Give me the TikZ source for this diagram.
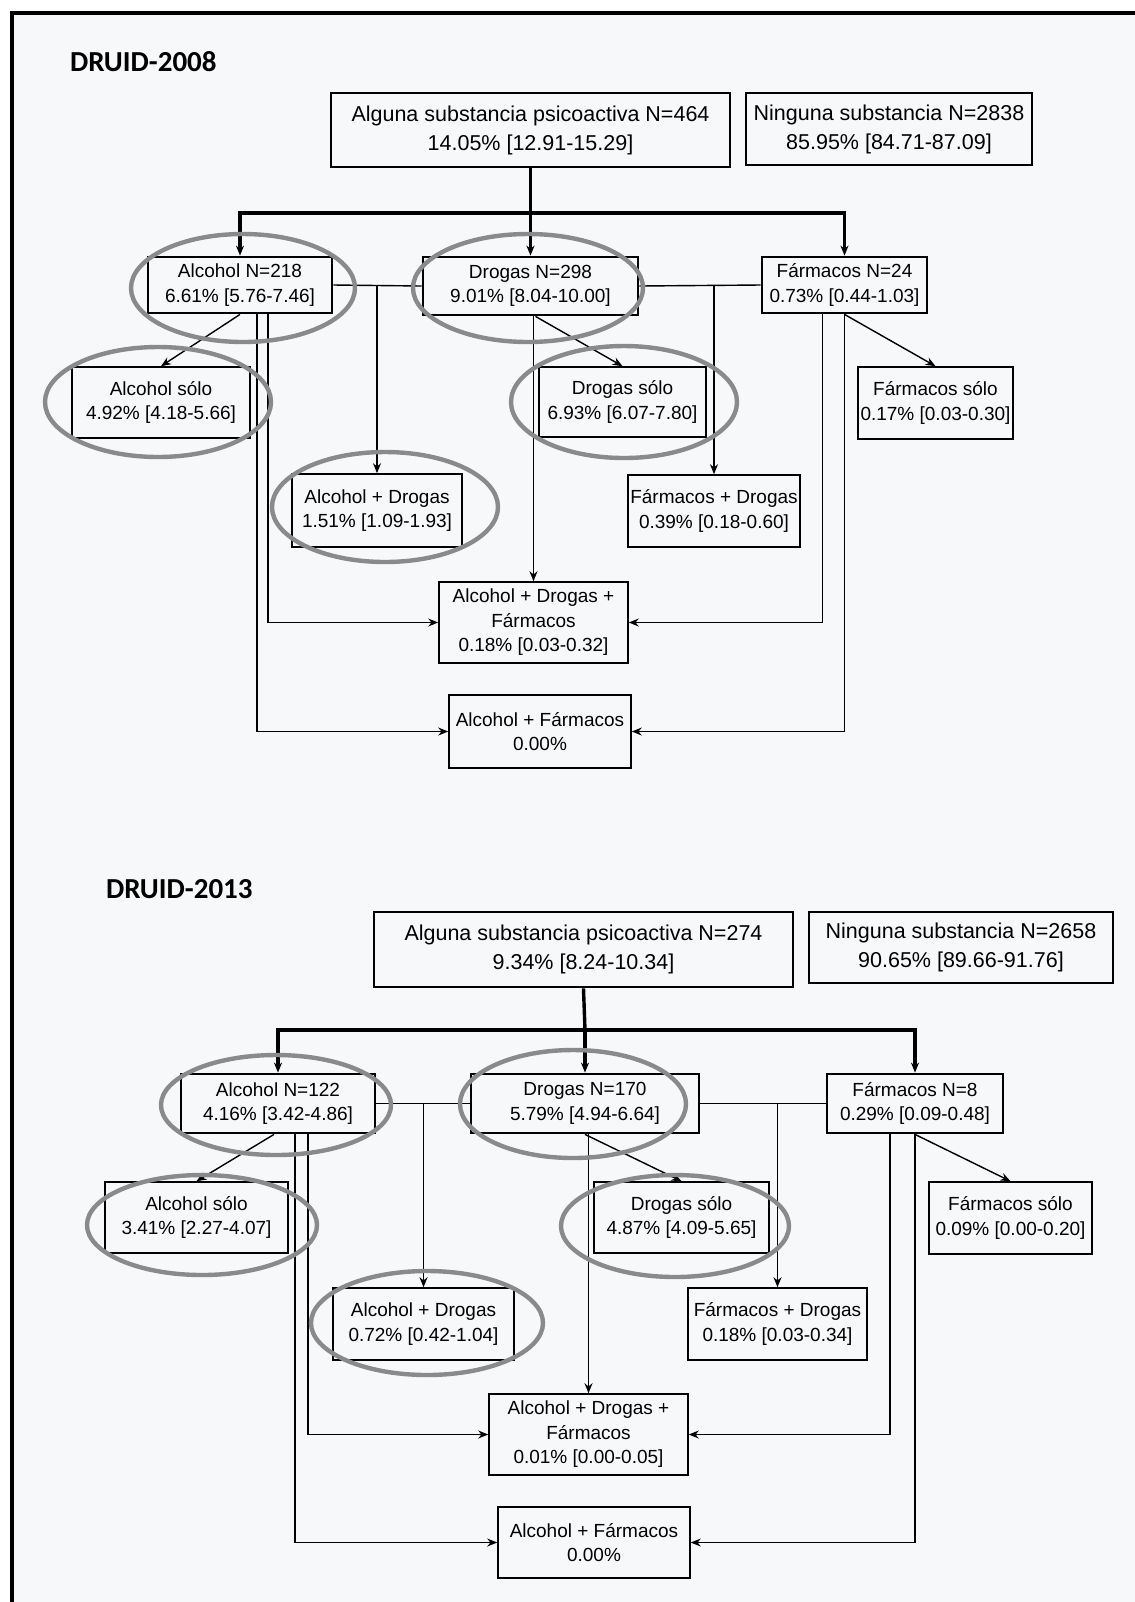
\documentclass[tikz,border=0pt]{standalone}
\usepackage{fontspec}
\setmainfont{Liberation Sans}
\newfontfamily\headfont{Carlito}
\usetikzlibrary{arrows.meta}

\definecolor{paper}{HTML}{F6F8F9}
\definecolor{ringgray}{HTML}{8A8A8A}

\tikzset{
  topbox/.style={draw, line width=1.4pt, align=center, inner sep=0pt, font=\fontsize{10.75}{14.5}\selectfont},
  midbox/.style={draw, line width=1.4pt, align=center, inner sep=0pt, font=\fontsize{9.5}{12.25}\selectfont},
  lowbox/.style={draw, line width=0.8pt, align=center, inner sep=0pt, font=\fontsize{9.5}{12.25}\selectfont},
  trunk/.style={line width=1.7pt},
  link/.style={line width=0.7pt},
  ring/.style={draw=ringgray, line width=2.2pt},
  heading/.style={anchor=west, font=\headfont\bfseries\fontsize{14.5}{17}\selectfont},
  >={Stealth[length=5pt,width=4pt]}
}

\begin{document}
\begin{tikzpicture}[x=0.5pt,y=-0.5pt]
  \useasboundingbox (0,0) rectangle (1135,1602);
  \fill[paper] (11.7,12.7) rectangle (1135,1602); % scanned page
  \draw[line width=1.8pt] (1135,12.7) -- (11.7,12.7) -- (11.7,1602); % frame

  % DRUID-2008
  \node[heading] (t8) at (63,62) {DRUID-2008};
  \node[topbox, minimum width=199.5pt, minimum height=37pt] (alg8) at (530.5,130) {Alguna substancia psicoactiva N=464\\14.05\% [12.91-15.29]};
  \node[topbox, minimum width=143pt, minimum height=36pt] (nin8) at (889,129) {Ninguna substancia N=2838\\85.95\% [84.71-87.09]};
  \node[midbox, minimum width=92pt, minimum height=28pt] (alc8) at (240,285) {Alcohol N=218\\6.61\% [5.76-7.46]};
  \node[midbox, minimum width=107.5pt, minimum height=29pt] (dro8) at (530.5,286) {Drogas N=298\\9.01\% [8.04-10.00]};
  \node[midbox, minimum width=82.5pt, minimum height=28pt] (far8) at (844.5,285) {Fármacos N=24\\0.73\% [0.44-1.03]};
  \node[lowbox, minimum width=89pt, minimum height=35.5pt] (alcs8) at (161,402.5) {Alcohol sólo\\4.92\% [4.18-5.66]};
  \node[lowbox, minimum width=83.5pt, minimum height=35pt] (dros8) at (622.5,402) {Drogas sólo\\6.93\% [6.07-7.80]};
  \node[lowbox, minimum width=77.5pt, minimum height=36pt] (fars8) at (935.5,403) {Fármacos sólo\\0.17\% [0.03-0.30]};
  \node[lowbox, minimum width=85pt, minimum height=36.5pt] (ad8) at (377,510.5) {Alcohol + Drogas\\1.51\% [1.09-1.93]};
  \node[lowbox, minimum width=86pt, minimum height=36pt] (fd8) at (714,511) {Fármacos + Drogas\\0.39\% [0.18-0.60]};
  \node[lowbox, minimum width=94.5pt, minimum height=40.5pt] (adf8) at (533.5,622.5) {Alcohol + Drogas +\\Fármacos\\0.18\% [0.03-0.32]};
  \node[lowbox, minimum width=91pt, minimum height=36.5pt] (af8) at (540,731.5) {Alcohol + Fármacos\\0.00\%};

  \coordinate (j8) at (530.5,213); % split under the top box
  \draw[trunk] (alg8.south) -- (j8);
  \draw[trunk,->] (j8) -| (alc8.north);
  \draw[trunk,->] (j8) -- (dro8.north);
  \draw[trunk,->] (j8) -| (far8.north);
  \draw[link] (alc8.east) -- (dro8.west);
  \draw[link] (dro8.east) -- (far8.west);
  \draw[link,->] (alc8.east -| ad8.north) -- (ad8.north);
  \draw[link,->] (dro8.east -| fd8.north) -- (fd8.north);
  \draw[link,->] (alc8.south) -- (alcs8.north);
  \draw[link,->] ([xshift=2.5pt]dro8.south) -- (dros8.north);
  \draw[link,->] (far8.south) -- (fars8.north);
  \draw[link,->] (dro8.south -| adf8.north) -- (adf8.north);
  \draw[link,->] ([xshift=14pt]alc8.south) |- (adf8.west);
  \draw[link,->] ([xshift=8.5pt]alc8.south) |- (af8.west);
  \draw[link,->] ([xshift=-11pt]far8.south) |- (adf8.east);
  \draw[link,->] (far8.south) |- (af8.east);

  \draw[ring] (243,288) ellipse [x radius=56pt, y radius=27pt];
  \draw[ring] (528,288) ellipse [x radius=57.5pt, y radius=27pt];
  \draw[ring] (158,402) ellipse [x radius=56.5pt, y radius=27.5pt];
  \draw[ring] (624,402) ellipse [x radius=56.5pt, y radius=28pt];
  \draw[ring] (385,507) ellipse [x radius=56.5pt, y radius=27.5pt];

  % DRUID-2013
  \node[heading] (t3) at (99,889) {DRUID-2013};
  \node[topbox, minimum width=209.5pt, minimum height=37.5pt] (alg3) at (583.5,949.5) {Alguna substancia psicoactiva N=274\\9.34\% [8.24-10.34]};
  \node[topbox, minimum width=152pt, minimum height=35.5pt] (nin3) at (961,947.5) {Ninguna substancia N=2658\\90.65\% [89.66-91.76]};
  \node[midbox, minimum width=97pt, minimum height=29.5pt] (alc3) at (278,1103.5) {Alcohol N=122\\4.16\% [3.42-4.86]};
  \node[midbox, minimum width=114pt, minimum height=29.5pt] (dro3) at (585,1103.5) {Drogas N=170\\5.79\% [4.94-6.64]};
  \node[midbox, minimum width=88pt, minimum height=29.5pt] (far3) at (915,1103.5) {Fármacos N=8\\0.29\% [0.09-0.48]};
  \node[lowbox, minimum width=91.5pt, minimum height=35.5pt] (alcs3) at (196.5,1217.5) {Alcohol sólo\\3.41\% [2.27-4.07]};
  \node[lowbox, minimum width=87.5pt, minimum height=35.5pt] (dros3) at (681.5,1217.5) {Drogas sólo\\4.87\% [4.09-5.65]};
  \node[lowbox, minimum width=81.5pt, minimum height=36pt] (fars3) at (1010.5,1218) {Fármacos sólo\\0.09\% [0.00-0.20]};
  \node[lowbox, minimum width=90.5pt, minimum height=36pt] (ad3) at (423.5,1324) {Alcohol + Drogas\\0.72\% [0.42-1.04]};
  \node[lowbox, minimum width=89.5pt, minimum height=36pt] (fd3) at (777.5,1324) {Fármacos + Drogas\\0.18\% [0.03-0.34]};
  \node[lowbox, minimum width=99.5pt, minimum height=40.5pt] (adf3) at (588.5,1434.5) {Alcohol + Drogas +\\Fármacos\\0.01\% [0.00-0.05]};
  \node[lowbox, minimum width=96pt, minimum height=35.5pt] (af3) at (594,1542.5) {Alcohol + Fármacos\\0.00\%};

  \coordinate (j3) at (585,1030); % split under the top box
  \draw[trunk] (alg3.south) -- (j3);
  \draw[trunk,->] (j3) -| (alc3.north);
  \draw[trunk,->] (j3) -- (dro3.north);
  \draw[trunk,->] (j3) -| (far3.north);
  \draw[link] (alc3.east) -- (dro3.west);
  \draw[link] (dro3.east) -- (far3.west);
  \draw[link,->] (alc3.east -| ad3.north) -- (ad3.north);
  \draw[link,->] (dro3.east -| fd3.north) -- (fd3.north);
  \draw[link,->] ([xshift=-2pt]alc3.south) -- (alcs3.north);
  \draw[link,->] (dro3.south) -- (dros3.north);
  \draw[link,->] (far3.south) -- (fars3.north);
  \draw[link,->] (dro3.south -| adf3.north) -- (adf3.north);
  \draw[link,->] ([xshift=15pt]alc3.south) |- (adf3.west);
  \draw[link,->] ([xshift=8.5pt]alc3.south) |- (af3.west);
  \draw[link,->] ([xshift=-12.5pt]far3.south) |- (adf3.east);
  \draw[link,->] (far3.south) |- (af3.east);

  \draw[ring] (276,1105) ellipse [x radius=57.5pt, y radius=25pt];
  \draw[ring] (573,1104) ellipse [x radius=56.5pt, y radius=27pt];
  \draw[ring] (202,1225) ellipse [x radius=57.5pt, y radius=25pt];
  \draw[ring] (675,1226) ellipse [x radius=57pt, y radius=25.5pt];
  \draw[ring] (427,1323) ellipse [x radius=58pt, y radius=26pt];
\end{tikzpicture}
\end{document}
